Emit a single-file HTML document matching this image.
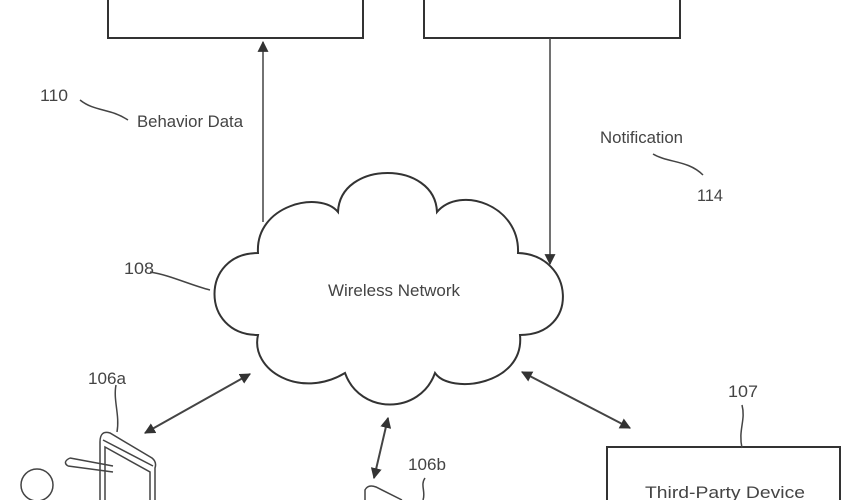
<!DOCTYPE html>
<html><head><style>html,body{margin:0;padding:0;background:#fff}svg{display:block}
text{font-family:"Liberation Sans Narrow","Liberation Sans",sans-serif;fill:#444;font-size:17px}</style></head>
<body>
<svg width="860" height="500" viewBox="0 0 860 500" xmlns="http://www.w3.org/2000/svg">
<defs>
<marker id="a" viewBox="0 0 10 10" refX="9" refY="5" markerWidth="11" markerHeight="11" orient="auto-start-reverse" markerUnits="userSpaceOnUse"><path d="M0,0 L10,5 L0,10 z" fill="#333"/></marker>
</defs>
<g fill="none" stroke="#333" stroke-width="2">
<path d="M108,-5 V38 H363 V-5"/>
<path d="M424,-5 V38 H680 V-5"/>
<path d="M607,510 V447 H840 V510"/>
<path d="M338,212 C340,160 435,160 437,212 C460,185 520,205 518,253 C575,255 580,335 520,335 C525,385 450,395 435,373 C420,415 360,415 345,373 C300,400 250,370 258,335 C200,335 200,253 258,253 C255,205 320,190 338,212 Z"/>
</g>
<g stroke="#444" stroke-width="1.5" fill="none">
<line x1="263" y1="222" x2="263" y2="42" marker-end="url(#a)"/>
<line x1="550" y1="38" x2="550" y2="264" marker-end="url(#a)"/>
<line x1="145" y1="433" x2="250" y2="374" marker-start="url(#a)" marker-end="url(#a)" stroke-width="2"/>
<line x1="374" y1="478" x2="388" y2="418" marker-start="url(#a)" marker-end="url(#a)" stroke-width="2"/>
<line x1="522" y1="372" x2="630" y2="428" marker-start="url(#a)" marker-end="url(#a)" stroke-width="2"/>
<path d="M80,100 C95,112 110,108 128,120"/>
<path d="M653,154 C668,163 688,160 703,175"/>
<path d="M150,272 C170,275 190,285 210,290"/>
<path d="M742,405 C746,420 738,430 742,448"/>
<path d="M116,385 C113,400 120,415 117,432"/>
<path d="M425,478 C420,485 426,492 423,500"/>
<circle cx="37" cy="485" r="16"/>
<path d="M100,500 V442 Q100,430 110,433 L152,458 Q157,462 155,468 V500"/>
<path d="M105,500 V447 L150,472 V500"/>
<path d="M103,440 L153,466"/>
<path d="M70,458 L113,466 M68,466 L113,472 M70,458 Q62,462 68,466"/>
<path d="M365,500 V490 Q368,484 376,487 L402,500"/>
</g>
<text x="40" y="101" textLength="28" lengthAdjust="spacingAndGlyphs">110</text>
<text x="137" y="127" textLength="106" lengthAdjust="spacingAndGlyphs">Behavior Data</text>
<text x="600" y="143" textLength="83" lengthAdjust="spacingAndGlyphs">Notification</text>
<text x="697" y="201" textLength="26" lengthAdjust="spacingAndGlyphs">114</text>
<text x="124" y="274" textLength="30" lengthAdjust="spacingAndGlyphs">108</text>
<text x="328" y="296" textLength="132" lengthAdjust="spacingAndGlyphs">Wireless Network</text>
<text x="88" y="384" textLength="38" lengthAdjust="spacingAndGlyphs">106a</text>
<text x="408" y="470" textLength="38" lengthAdjust="spacingAndGlyphs">106b</text>
<text x="728" y="397" textLength="30" lengthAdjust="spacingAndGlyphs">107</text>
<text x="645" y="498" textLength="160" lengthAdjust="spacingAndGlyphs">Third-Party Device</text>
</svg>
</body></html>
